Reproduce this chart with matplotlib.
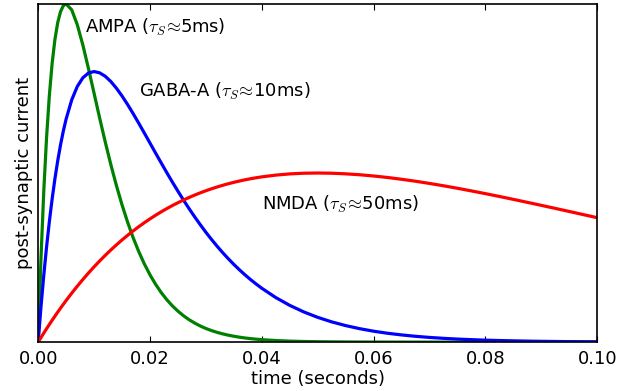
import matplotlib
matplotlib.use("Agg")
import matplotlib.pyplot as plt
from matplotlib.ticker import FormatStrFormatter

# tiempo (ms), muestreado mas fino al principio
t_ms = [0, 0.5, 1, 1.5, 2, 2.5, 3, 3.5, 4, 4.5, 5,
        6, 7, 8, 9, 10, 11, 12, 13, 14, 15, 16, 17, 18, 19, 20,
        21, 22, 23, 24, 25, 26, 27, 28, 29, 30, 31, 32, 33, 34, 35,
        36, 37, 38, 39, 40,
        42.5, 45, 47.5, 50, 52.5, 55, 57.5, 60, 62.5, 65, 67.5, 70,
        72.5, 75, 77.5, 80, 82.5, 85, 87.5, 90, 92.5, 95, 97.5, 100]

# corrientes
ampa = [0, .2460, .4451, .6041, .7288, .8244, .8951, .9449, .9771, .9947, 1.0,
        .9825, .9384, .8781, .8088, .7358, .6626, .5918, .5249, .4628, .4060,
        .3546, .3084, .2674, .2311, .1991,
        .1712, .1468, .1257, .1073, .0916, .0780, .0663, .0563, .0477, .0404,
        .0342, .0289, .0244, .0206, .0174,
        .0146, .0123, .0103, .0087, .0073,
        .0047, .0030, .0019, .0012, .0008, .0005, .0003, .0002, .0001, .0001,
        0, 0, 0, 0, 0, 0, 0, 0, 0, 0, 0, 0, 0, 0]
gaba = [0, .1034, .1968, .2808, .3561, .4234, .4833, .5363, .5831, .6240, .6595,
        .7161, .7559, .7817, .7957, .8000, .7962, .7860, .7705, .7507, .7278,
        .7025, .6754, .6470, .6180, .5886,
        .5592, .5301, .5014, .4734, .4463, .4199, .3946, .3703, .3471, .3248,
        .3038, .2837, .2647, .2468, .2298,
        .2139, .1989, .1848, .1717, .1593,
        .1318, .1087, .0894, .0733, .0599, .0489, .0398, .0323, .0262, .0213,
        .0172, .0139, .0112, .0090, .0073, .0058, .0047, .0038, .0030, .0024,
        .0019, .0015, .0012, .0010]
nmda = [0, .0135, .0266, .0396, .0522, .0646, .0768, .0887, .1004, .1118, .1230,
        .1447, .1654, .1853, .2043, .2226, .2400, .2566, .2725, .2876, .3021,
        .3158, .3289, .3414, .3532, .3644,
        .3751, .3852, .3947, .4037, .4122, .4202, .4277, .4348, .4414, .4476,
        .4533, .4587, .4636, .4682, .4725,
        .4763, .4799, .4831, .4860, .4886,
        .4938, .4974, .4994, .5000, .4994, .4976, .4949, .4912, .4868, .4815,
        .4757, .4692, .4623, .4549, .4471, .4390, .4307, .4221, .4133, .4044,
        .3954, .3863, .3771, .3679]

t = [v / 1000.0 for v in t_ms]

etiquetas = [r"AMPA ($\tau_S\!\approx\!$5ms)",
             r"GABA-A ($\tau_S\!\approx\!$10ms)",
             r"NMDA ($\tau_S\!\approx\!$50ms)"]

plt.rcParams["mathtext.fontset"] = "cm"
plt.rcParams["font.size"] = 13

fig = plt.figure(figsize=(6.36, 3.91), dpi=100)
ax = fig.add_axes([0.060, 0.125, 0.879, 0.865])

ax.plot(t, ampa, color=(0, 0.5, 0), lw=2.3)
ax.plot(t, gaba, color="b", lw=2.3)
ax.plot(t, nmda, color="r", lw=2.3)

ax.text(0.0084, 0.93, etiquetas[0], va="center", ha="left")
ax.text(0.0181, 0.74, etiquetas[1], va="center", ha="left")
ax.text(0.0401, 0.408, etiquetas[2], va="center", ha="left")

ax.set_xlim(0, 0.1)
ax.set_ylim(0, 1.0)
ax.set_xticks([0, 0.02, 0.04, 0.06, 0.08, 0.10])
ax.xaxis.set_major_formatter(FormatStrFormatter("%.2f"))
ax.set_yticks([])
ax.tick_params(axis="x", direction="in", top=True, length=4, pad=6)
for s in ax.spines.values():
    s.set_linewidth(1.2)

ax.set_xlabel("time (seconds)", labelpad=1)
ax.set_ylabel("post-synaptic current", labelpad=4)

fig.savefig("out.png", dpi=100)
